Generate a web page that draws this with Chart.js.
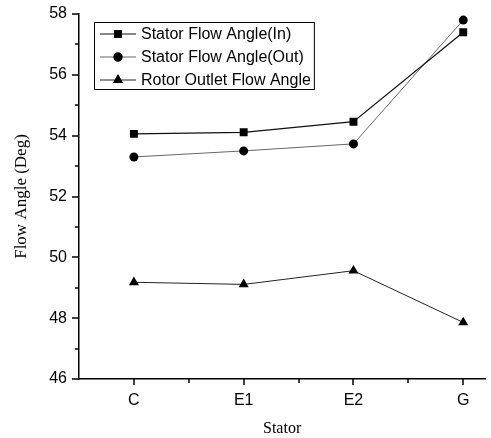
<!DOCTYPE html>
<html>
<head>
<meta charset="utf-8">
<script src="https://cdn.jsdelivr.net/npm/chart.js@4/dist/chart.umd.min.js"></script>
<style>
  html, body { margin: 0; padding: 0; background: #fff; }
  #wrap { width: 491px; height: 438px; }
</style>
</head>
<body>
<div id="wrap"><canvas id="flowChart" width="491" height="438"></canvas></div>
<script>
const categories = ["C", "E1", "E2", "G"];
const statorIn = [54.06, 54.11, 54.46, 57.4];
const statorOut = [53.3, 53.5, 53.73, 57.8];
const rotorOut = [49.18, 49.11, 49.56, 47.86];
const yTicks = [46, 48, 50, 52, 54, 56, 58];

function toPoints(values) {
  return values.map((v, i) => ({ x: i + 1, y: v }));
}

// tick marks drawn by hand so minor ticks can be shorter
const tickMarks = {
  id: "tickMarks",
  afterDraw(chart) {
    const ctx = chart.ctx;
    const xs = chart.scales.x;
    const ys = chart.scales.y;
    const area = chart.chartArea;
    ctx.save();
    ctx.strokeStyle = "#000";
    ctx.lineWidth = 1.5;
    for (let v = 46; v <= 58; v++) {
      const y = Math.round(ys.getPixelForValue(v));
      const len = v % 2 === 0 ? 7 : 4;
      ctx.beginPath();
      ctx.moveTo(area.left, y);
      ctx.lineTo(area.left - len, y);
      ctx.stroke();
    }
    for (let v = 1; v <= 4; v += 0.5) {
      const x = Math.round(xs.getPixelForValue(v));
      const len = Number.isInteger(v) ? 6 : 4;
      ctx.beginPath();
      ctx.moveTo(x, area.bottom);
      ctx.lineTo(x, area.bottom + len);
      ctx.stroke();
    }
    ctx.restore();
  },
};

// boxed legend inside the plot, top left
const boxLegend = {
  id: "boxLegend",
  afterDraw(chart) {
    const ctx = chart.ctx;
    const sets = chart.data.datasets;
    const left = 94, top = 22, rowH = 23;
    ctx.save();
    ctx.font = "16px 'Liberation Sans', Arial, sans-serif";
    let maxW = 0;
    sets.forEach((d) => { maxW = Math.max(maxW, ctx.measureText(d.label).width); });
    const w = 141 - left + maxW + 3;
    const h = rowH * sets.length - 2;
    ctx.fillStyle = "#fff";
    ctx.fillRect(left, top, w, h);
    ctx.strokeStyle = "#000";
    ctx.lineWidth = 1;
    ctx.strokeRect(left + 0.5, top + 0.5, w, h);
    sets.forEach((d, i) => {
      const y = top + 12 + i * rowH;
      ctx.strokeStyle = d.borderColor;
      ctx.lineWidth = d.borderWidth;
      ctx.beginPath();
      ctx.moveTo(100, y);
      ctx.lineTo(136, y);
      ctx.stroke();
      Chart.helpers.drawPoint(ctx, {
        pointStyle: d.pointStyle,
        radius: d.pointRadius,
        rotation: 0,
        borderWidth: 0,
      }, 118, y);
      ctx.fillStyle = "#000";
      ctx.fill();
      ctx.textBaseline = "middle";
      ctx.textAlign = "left";
      ctx.fillText(d.label, 141, y + 1);
    });
    ctx.restore();
  },
};

new Chart(document.getElementById("flowChart"), {
  type: "line",
  data: {
    datasets: [
      {
        label: "Stator Flow Angle(In)",
        data: toPoints(statorIn),
        borderColor: "#111",
        backgroundColor: "#000",
        borderWidth: 1.2,
        pointStyle: "rect",
        pointRadius: 5.6,
        pointBorderWidth: 0,
      },
      {
        label: "Stator Flow Angle(Out)",
        data: toPoints(statorOut),
        borderColor: "#666",
        backgroundColor: "#000",
        borderWidth: 1,
        pointStyle: "circle",
        pointRadius: 4.5,
        pointBorderWidth: 0,
      },
      {
        label: "Rotor Outlet Flow Angle",
        data: toPoints(rotorOut),
        borderColor: "#222",
        backgroundColor: "#000",
        borderWidth: 1,
        pointStyle: "triangle",
        pointRadius: 5.8,
        pointBorderWidth: 0,
      },
    ],
  },
  options: {
    responsive: false,
    animation: false,
    layout: { padding: { left: 0, right: 3, top: 14, bottom: 0 } },
    plugins: {
      legend: { display: false },
      tooltip: { enabled: false },
    },
    scales: {
      x: {
        type: "linear",
        min: 0.5,
        max: 4.2,
        afterBuildTicks: (scale) => {
          scale.ticks = categories.map((c, i) => ({ value: i + 1 }));
        },
        afterFit: (scale) => {
          scale.height = 59;
          scale.paddingLeft = 0;
          scale.paddingRight = 0;
        },
        ticks: {
          autoSkip: false,
          maxRotation: 0,
          padding: 12,
          color: "#000",
          font: { family: "'Liberation Sans', Arial, sans-serif", size: 16 },
          callback: (v) => categories[v - 1] || "",
        },
        grid: { drawOnChartArea: false, drawTicks: false },
        border: { display: true, color: "#000", width: 1.5 },
        title: {
          display: true,
          text: "Stator",
          color: "#000",
          font: { family: "'Liberation Serif', 'Times New Roman', serif", size: 16 },
          padding: { top: 8, bottom: 0 },
        },
      },
      y: {
        min: 46,
        max: 58,
        afterBuildTicks: (scale) => {
          scale.ticks = yTicks.map((v) => ({ value: v }));
        },
        afterFit: (scale) => {
          scale.width = 79;
          scale.paddingTop = 0;
          scale.paddingBottom = 0;
        },
        ticks: {
          padding: 12,
          color: "#000",
          font: { family: "'Liberation Sans', Arial, sans-serif", size: 16 },
        },
        grid: { drawOnChartArea: false, drawTicks: false },
        border: { display: true, color: "#000", width: 1.5 },
        title: {
          display: true,
          text: "Flow Angle (Deg)",
          color: "#000",
          font: { family: "'Liberation Serif', 'Times New Roman', serif", size: 17 },
          padding: { top: 11, bottom: 0 },
        },
      },
    },
  },
  plugins: [tickMarks, boxLegend],
});
</script>
</body>
</html>
